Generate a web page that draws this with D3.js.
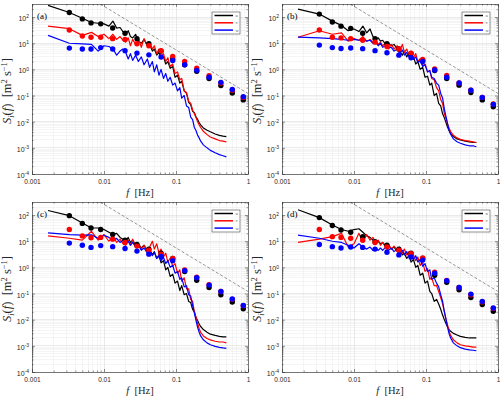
<!DOCTYPE html>
<html>
<head>
<meta charset="utf-8">
<script src="https://cdn.jsdelivr.net/npm/d3@7"></script>
<style>
body { margin: 0; background: #fff; }
svg { display: block; }
</style>
</head>
<body>
<script>
var width = 500, height = 397,
    pw = 216, ph = 170;

// frequencies of the spectra [Hz]
var specFreq = [0.00167, 0.0033, 0.005, 0.0067, 0.0083, 0.01, 0.0117, 0.0133, 0.015, 0.0167, 0.0183, 0.02, 0.0217, 0.0233, 0.025, 0.0275, 0.03, 0.033, 0.036, 0.04, 0.043, 0.047, 0.05, 0.054, 0.058, 0.062, 0.067, 0.072, 0.077, 0.083, 0.09, 0.097, 0.105, 0.113, 0.12, 0.13, 0.14, 0.15, 0.16, 0.17, 0.18, 0.19, 0.2, 0.21, 0.22, 0.24, 0.27, 0.3, 0.35, 0.4, 0.45, 0.5];
// frequencies of the bin-averaged dots [Hz]
var dotFreq = [0.0033, 0.005, 0.0066, 0.009, 0.0132, 0.0196, 0.0287, 0.042, 0.062, 0.09, 0.132, 0.194, 0.288, 0.42, 0.605, 0.86];

// panel (a)
var uSpecA = [280, 150, 90, 62, 58, 55, 45, 70, 38, 40, 28, 22, 30, 18, 16, 22, 12, 10, 14, 8, 9, 5, 6, 3.5, 4.5, 2.5, 3, 1.6, 2, 1.1, 1.3, 0.5, 0.6, 0.3, 0.35, 0.15, 0.12, 0.055, 0.045, 0.025, 0.022, 0.015, 0.012, 0.009, 0.0075, 0.0058, 0.0047, 0.0041, 0.0034, 0.003, 0.0028, 0.0027];
var vSpecA = [45, 36, 20, 26, 18, 22, 15, 22, 14, 18, 13, 11, 16, 8, 14, 9, 16, 7, 15, 8, 11, 6, 8, 4, 6, 3, 4, 2, 2.8, 1.3, 1.6, 0.7, 0.8, 0.4, 0.45, 0.15, 0.13, 0.06, 0.05, 0.028, 0.02, 0.014, 0.01, 0.0075, 0.006, 0.0043, 0.0032, 0.0026, 0.0022, 0.0019, 0.0018, 0.0017];
var wSpecA = [20, 10, 9.5, 9, 5, 8, 7.5, 6, 3.5, 5, 6, 4.5, 2.5, 4, 2.2, 3.5, 2, 3, 1.5, 2.5, 1.2, 2, 0.8, 1.5, 0.6, 1, 0.45, 0.7, 0.35, 0.5, 0.25, 0.3, 0.15, 0.2, 0.08, 0.1, 0.04, 0.035, 0.015, 0.012, 0.006, 0.0045, 0.003, 0.0024, 0.0018, 0.0013, 0.001, 0.0008, 0.00065, 0.00055, 0.0005, 0.00045];
var uDotA = [150, 85, 60, 55, 38, 24, 15, 9.5, 5, 2.5, 1.5, 0.85, 0.45, 0.24, 0.125, 0.068];
var vDotA = [32, 19, 17, 17, 15, 14, 9.5, 8, 5.2, 3.1, 2.0, 1.1, 0.57, 0.3, 0.16, 0.085];
var wDotA = [6.5, 6, 6, 6.8, 6, 5.2, 4.2, 3.6, 3.0, 2.2, 1.5, 0.92, 0.5, 0.32, 0.17, 0.09];

// panel (b)
var uSpecB = [200, 130, 70, 48, 30, 35, 28, 45, 25, 35, 18, 15, 16, 12, 13, 9, 10, 8, 9, 6, 5, 3.5, 5, 3, 4, 2.5, 3, 1.6, 2, 1, 1.2, 0.5, 0.55, 0.25, 0.3, 0.1, 0.12, 0.05, 0.04, 0.02, 0.014, 0.009, 0.006, 0.0045, 0.0035, 0.0027, 0.0022, 0.002, 0.0018, 0.0017, 0.0016, 0.0016];
var vSpecB = [17, 30, 22, 25, 12, 15, 13, 18, 12, 14, 11, 13, 9, 11, 8, 10, 6, 9, 6, 8, 5.5, 9, 4.5, 6, 3.5, 5, 2.8, 4, 2, 2.6, 1.4, 1.6, 0.8, 0.9, 0.45, 0.4, 0.2, 0.15, 0.07, 0.05, 0.02, 0.013, 0.008, 0.0055, 0.0042, 0.003, 0.0024, 0.0021, 0.0019, 0.0018, 0.0017, 0.0016];
var wSpecB = [17, 16, 15, 14, 13, 14, 13, 14, 12, 13, 10, 11, 8, 10, 7, 8, 6.5, 7, 5, 6, 4, 5.5, 3.5, 4.5, 3, 3.8, 2.4, 3, 1.8, 2.2, 1.3, 1.5, 0.8, 0.9, 0.5, 0.45, 0.3, 0.25, 0.12, 0.08, 0.03, 0.015, 0.008, 0.0045, 0.0033, 0.0022, 0.0017, 0.0015, 0.0013, 0.0012, 0.0012, 0.0011];
var uDotB = [130, 65, 45, 37, 24, 15, 9.5, 6, 4, 2.2, 0.9, 0.45, 0.25, 0.13, 0.068, 0.037];
var vDotB = [32, 17, 16, 15, 13, 11, 7.5, 6, 4.2, 2.4, 1.05, 0.58, 0.3, 0.16, 0.085, 0.048];
var wDotB = [8.5, 6.8, 6.3, 6.6, 6.2, 5.2, 4.3, 3.5, 2.8, 2, 0.95, 0.5, 0.3, 0.16, 0.085, 0.046];

// panel (c)
var uSpecC = [150, 95, 50, 32, 32, 28, 22, 18, 20, 14, 12, 10, 14, 9, 11, 7, 8, 5.5, 7, 4, 5, 3, 4, 2.2, 2.8, 1.5, 1.8, 0.8, 1, 0.45, 0.55, 0.25, 0.3, 0.13, 0.2, 0.09, 0.1, 0.05, 0.045, 0.025, 0.02, 0.012, 0.009, 0.0068, 0.0055, 0.0042, 0.0033, 0.0028, 0.0025, 0.0023, 0.0022, 0.0022];
var vSpecC = [16, 13, 11, 24, 11, 18, 10, 15, 9, 12, 8, 7, 11, 7, 12, 6, 8, 5, 7, 4.5, 6, 10, 5, 8, 3.5, 5, 2.5, 3.5, 1.6, 2.2, 1.1, 1.4, 0.6, 0.8, 0.3, 0.4, 0.15, 0.15, 0.06, 0.05, 0.02, 0.012, 0.007, 0.0045, 0.0033, 0.0024, 0.0019, 0.0017, 0.0015, 0.0014, 0.0014, 0.0013];
var wSpecC = [21, 18, 17, 17.5, 13, 17, 14, 11, 13, 9, 11, 8, 10, 7, 9, 6, 7, 4.5, 5.5, 3.5, 4.5, 2.8, 3.8, 2.2, 3, 1.8, 2.4, 1.4, 1.8, 1, 1.2, 0.6, 0.7, 0.35, 0.4, 0.18, 0.2, 0.09, 0.08, 0.035, 0.018, 0.009, 0.005, 0.0033, 0.0024, 0.0017, 0.0013, 0.0011, 0.00095, 0.00088, 0.00083, 0.0008];
var uDotC = [95, 48, 32, 28, 18, 11, 7.5, 5, 3.5, 2.2, 0.7, 0.32, 0.17, 0.09, 0.047, 0.026];
var vDotC = [28, 16, 13.5, 14, 12, 9, 6.5, 4.5, 3.2, 2.2, 0.8, 0.42, 0.22, 0.12, 0.06, 0.034];
var wDotC = [8.5, 7, 5.8, 6.8, 6.2, 5.3, 4.2, 3.2, 2.6, 1.8, 0.75, 0.4, 0.21, 0.12, 0.062, 0.035];

// panel (d)
var uSpecD = [160, 80, 42, 28, 24, 28, 30, 22, 16, 14, 11, 9, 10, 8, 9, 6.5, 7.5, 5, 6, 4, 4.5, 3, 3.5, 2.2, 2.8, 1.6, 2, 1, 1.2, 0.5, 0.6, 0.25, 0.3, 0.12, 0.1, 0.05, 0.06, 0.04, 0.025, 0.015, 0.01, 0.007, 0.0052, 0.0042, 0.0036, 0.003, 0.0026, 0.0023, 0.0021, 0.002, 0.002, 0.002];
var vSpecD = [9, 12, 15, 20, 6, 8, 20, 9, 18, 11, 14, 9, 11, 7, 9, 6, 7.5, 5, 6.5, 4.5, 6, 3.5, 5, 3, 4, 2.5, 3, 1.8, 2.5, 1.2, 1.6, 0.7, 0.9, 0.35, 0.4, 0.2, 0.2, 0.12, 0.07, 0.04, 0.02, 0.01, 0.006, 0.0035, 0.0025, 0.0017, 0.0013, 0.0011, 0.001, 0.00095, 0.0009, 0.0009];
var wSpecD = [17, 13, 10, 9, 7, 5.5, 8, 6, 5, 6, 4.5, 5.5, 4.5, 5.5, 4.5, 6, 4.5, 5.5, 4, 5, 3.5, 4.5, 3, 4, 2.5, 3.2, 2, 2.8, 1.6, 2, 1.1, 1.4, 0.7, 0.8, 0.35, 0.4, 0.25, 0.18, 0.09, 0.05, 0.02, 0.01, 0.005, 0.0028, 0.002, 0.0013, 0.001, 0.00085, 0.00075, 0.0007, 0.00068, 0.00065];
var uDotD = [80, 40, 27, 22, 15, 9.5, 7, 5, 3.5, 2.2, 0.5, 0.27, 0.14, 0.07, 0.038, 0.021];
var vDotD = [28, 15, 14, 13, 11, 9, 6, 4.5, 3.3, 2.3, 0.65, 0.32, 0.17, 0.09, 0.048, 0.027];
var wDotD = [7.5, 6.2, 5.5, 6, 5.8, 5, 3.8, 3, 2.5, 1.9, 0.6, 0.31, 0.17, 0.095, 0.05, 0.028];

// -5/3 reference line, end points
var refFreq = [0.001, 1];
var refS = [12000, 0.12];

var xTicks = [0.001, 0.01, 0.1, 1],
    xTickLabels = ["0.001", "0.01", "0.1", "1"],
    yTickExp = [-4, -3, -2, -1, 0, 1, 2],
    seriesNames = ["u", "v", "w"],
    seriesColors = ["#000000", "#ff0000", "#0000ff"];

var panels = [
  {label: "(a)", left: 32, top: 4, spec: [uSpecA, vSpecA, wSpecA], dots: [uDotA, vDotA, wDotA]},
  {label: "(b)", left: 282, top: 4, spec: [uSpecB, vSpecB, wSpecB], dots: [uDotB, vDotB, wDotB]},
  {label: "(c)", left: 32, top: 202, spec: [uSpecC, vSpecC, wSpecC], dots: [uDotC, vDotC, wDotC]},
  {label: "(d)", left: 282, top: 202, spec: [uSpecD, vSpecD, wSpecD], dots: [uDotD, vDotD, wDotD]}
];

var svg = d3.select("body").append("svg")
    .attr("width", width)
    .attr("height", height);

var x = d3.scaleLog().domain([0.001, 1]).range([0, pw]);
var y = d3.scaleLog().domain([1e-4, Math.pow(10, 2.5)]).range([ph, 0]);

var isMajor = function(v) { return Math.abs(Math.log10(v) - Math.round(Math.log10(v))) < 1e-6; };
var xMinor = x.ticks().filter(function(v) { return !isMajor(v); });
var yMinor = y.ticks().filter(function(v) { return !isMajor(v) && v <= Math.pow(10, 2.5); });
var yMajor = yTickExp.map(function(e) { return Math.pow(10, e); });

var line = d3.line()
    .x(function(d) { return x(d[0]); })
    .y(function(d) { return y(d[1]); });

panels.forEach(function(p, pi) {
  var g = svg.append("g").attr("transform", "translate(" + p.left + "," + p.top + ")");

  g.append("clipPath").attr("id", "clip" + pi)
    .append("rect").attr("width", pw).attr("height", ph);

  // minor grid
  var grid = g.append("g").attr("stroke-width", 0.5).attr("shape-rendering", "crispEdges");
  grid.selectAll(".xmin").data(xMinor).enter().append("line")
      .attr("x1", function(d) { return x(d); }).attr("x2", function(d) { return x(d); })
      .attr("y1", 0).attr("y2", ph).attr("stroke", "#ebebeb");
  grid.selectAll(".ymin").data(yMinor).enter().append("line")
      .attr("y1", function(d) { return y(d); }).attr("y2", function(d) { return y(d); })
      .attr("x1", 0).attr("x2", pw).attr("stroke", "#ebebeb");
  // major grid
  grid.selectAll(".xmaj").data(xTicks).enter().append("line")
      .attr("x1", function(d) { return x(d); }).attr("x2", function(d) { return x(d); })
      .attr("y1", 0).attr("y2", ph).attr("stroke", "#d6d6d6");
  grid.selectAll(".ymaj").data(yMajor).enter().append("line")
      .attr("y1", function(d) { return y(d); }).attr("y2", function(d) { return y(d); })
      .attr("x1", 0).attr("x2", pw).attr("stroke", "#d6d6d6");

  var plot = g.append("g").attr("clip-path", "url(#clip" + pi + ")");

  // -5/3 line
  plot.append("path")
      .datum(refFreq.map(function(f, i) { return [f, refS[i]]; }))
      .attr("d", line)
      .attr("fill", "none")
      .attr("stroke", "#7a7a7a")
      .attr("stroke-width", 0.8)
      .attr("stroke-dasharray", "3,2");

  // spectra
  p.spec.forEach(function(vals, si) {
    plot.append("path")
        .datum(specFreq.map(function(f, i) { return [f, vals[i]]; }))
        .attr("d", line)
        .attr("fill", "none")
        .attr("stroke", seriesColors[si])
        .attr("stroke-width", 1.2)
        .attr("stroke-linejoin", "round");
  });

  // dots
  p.dots.forEach(function(vals, si) {
    plot.selectAll(".dot" + si)
        .data(dotFreq.map(function(f, i) { return [f, vals[i]]; }))
        .enter().append("circle")
        .attr("cx", function(d) { return x(d[0]); })
        .attr("cy", function(d) { return y(d[1]); })
        .attr("r", 2.7)
        .attr("fill", seriesColors[si]);
  });

  // axes (ticks inward)
  var axB = g.append("g").attr("transform", "translate(0," + ph + ")")
      .call(d3.axisBottom(x).tickValues(xTicks).tickSize(-3).tickPadding(5)
        .tickFormat(function(d, i) { return xTickLabels[i]; }));
  g.append("g").attr("transform", "translate(0," + ph + ")")
      .call(d3.axisBottom(x).tickValues(xMinor).tickSize(-1.5).tickFormat(""));
  g.append("g").call(d3.axisTop(x).tickValues(xTicks).tickSize(-3).tickFormat(""));
  g.append("g").call(d3.axisTop(x).tickValues(xMinor).tickSize(-1.5).tickFormat(""));

  var axL = g.append("g")
      .call(d3.axisLeft(y).tickValues(yMajor).tickSize(-3).tickPadding(3).tickFormat(""));
  g.append("g").call(d3.axisLeft(y).tickValues(yMinor).tickSize(-1.5).tickFormat(""));
  g.append("g").attr("transform", "translate(" + pw + ",0)")
      .call(d3.axisRight(y).tickValues(yMajor).tickSize(-3).tickFormat(""));
  g.append("g").attr("transform", "translate(" + pw + ",0)")
      .call(d3.axisRight(y).tickValues(yMinor).tickSize(-1.5).tickFormat(""));

  g.selectAll(".domain").remove();
  g.selectAll(".tick line").attr("stroke", "#262626").attr("stroke-width", 0.5);

  axB.selectAll(".tick text")
      .attr("font-family", "Liberation Sans, Arial, sans-serif")
      .attr("font-size", 6.5)
      .attr("fill", "#262626");

  axL.selectAll(".tick text").each(function(d, i) {
    var t = d3.select(this)
        .attr("font-family", "Liberation Sans, Arial, sans-serif")
        .attr("font-size", 7)
        .attr("fill", "#262626")
        .attr("x", -3)
        .attr("dy", "0.5em");
    t.text("10");
    t.append("tspan").attr("dy", "-0.55em").attr("font-size", 5).text(yTickExp[i]);
  });

  // box
  g.append("rect")
      .attr("width", pw).attr("height", ph)
      .attr("fill", "none")
      .attr("stroke", "#262626")
      .attr("stroke-width", 0.6)
      .attr("shape-rendering", "crispEdges");

  // panel label
  g.append("text")
      .attr("x", 5).attr("y", 15)
      .attr("font-family", "Liberation Serif, Times New Roman, serif")
      .attr("font-size", 9)
      .text(p.label);

  // legend
  var lg = g.append("g").attr("transform", "translate(" + (pw - 36) + ",8)");
  lg.append("rect")
      .attr("width", 28).attr("height", 22)
      .attr("fill", "#fff")
      .attr("stroke", "#262626")
      .attr("stroke-width", 0.5);
  seriesNames.forEach(function(n, si) {
    var ly = 3.5 + si * 7.3;
    lg.append("line")
        .attr("x1", 2.5).attr("x2", 21)
        .attr("y1", ly).attr("y2", ly)
        .attr("stroke", seriesColors[si])
        .attr("stroke-width", 1.5);
    lg.append("text")
        .attr("x", 23.5).attr("y", ly + 1.6)
        .attr("font-family", "Liberation Serif, Times New Roman, serif")
        .attr("font-size", 4.5)
        .attr("fill", "#555")
        .text(n);
  });

  // axis titles
  g.append("text")
      .attr("x", pw / 2).attr("y", ph + 22)
      .attr("text-anchor", "middle")
      .attr("font-family", "Liberation Serif, Times New Roman, serif")
      .attr("font-size", 10.5)
      .attr("fill", "#262626")
      .call(function(t) {
        t.append("tspan").attr("font-style", "italic").text("f");
        t.append("tspan").text("\u2002[Hz]");
      });

  g.append("text")
      .attr("transform", "translate(" + (-21) + "," + (ph / 2 + 2) + ") rotate(-90)")
      .attr("text-anchor", "middle")
      .attr("font-family", "Liberation Serif, Times New Roman, serif")
      .attr("font-size", 12.5)
      .attr("fill", "#262626")
      .call(function(t) {
        t.append("tspan").attr("font-style", "italic").text("S");
        t.append("tspan").attr("font-style", "italic").attr("font-size", 8.5).attr("dy", 3).text("i");
        t.append("tspan").attr("dy", -3).text("(");
        t.append("tspan").attr("font-style", "italic").text("f");
        t.append("tspan").text(")\u2002[m");
        t.append("tspan").attr("font-size", 8.5).attr("dy", -4.5).text("2");
        t.append("tspan").attr("dy", 4.5).text(" s");
        t.append("tspan").attr("font-size", 8.5).attr("dy", -4.5).text("\u22121");
        t.append("tspan").attr("dy", 4.5).text("]");
      });
});
</script>
</body>
</html>
